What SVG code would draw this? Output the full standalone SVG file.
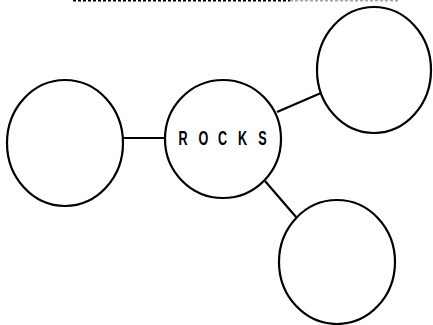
<svg xmlns="http://www.w3.org/2000/svg" width="433" height="325" viewBox="0 0 433 325">
<style>
.node{fill:none;stroke:#000;stroke-width:2.2}
.edge{stroke:#000;stroke-width:2.2;fill:none}
.lbl{font-family:"Liberation Sans",Arial,sans-serif;font-weight:bold;font-size:21px;fill:#000;text-anchor:middle}
.top{stroke:#000;stroke-width:1.5;stroke-dasharray:3 2;fill:none}
</style>
<rect width="433" height="325" fill="#fff"/>
<line class="top" x1="73" y1="0.8" x2="290" y2="0.8"/>
<line class="top" x1="290" y1="0.8" x2="400" y2="0.8" stroke-opacity="0.35"/>
<g id="connectors">
<line class="edge" x1="123" y1="138" x2="165" y2="138"/>
<line class="edge" x1="277" y1="112" x2="321" y2="93"/>
<line class="edge" x1="265" y1="181" x2="296" y2="217"/>
</g>
<g id="rocks">
<ellipse class="node" cx="223" cy="139" rx="58" ry="59"/>
<text class="lbl" transform="scale(0.6,1)" x="305 339.2 370.8 404.2 437.5" y="145.5">ROCKS</text>
</g>
<g id="left">
<ellipse class="node" cx="65" cy="143" rx="58" ry="63"/>
</g>
<g id="topright">
<ellipse class="node" cx="374" cy="70" rx="57" ry="63"/>
</g>
<g id="bottomright">
<ellipse class="node" cx="337" cy="262" rx="58" ry="62"/>
</g>
</svg>
